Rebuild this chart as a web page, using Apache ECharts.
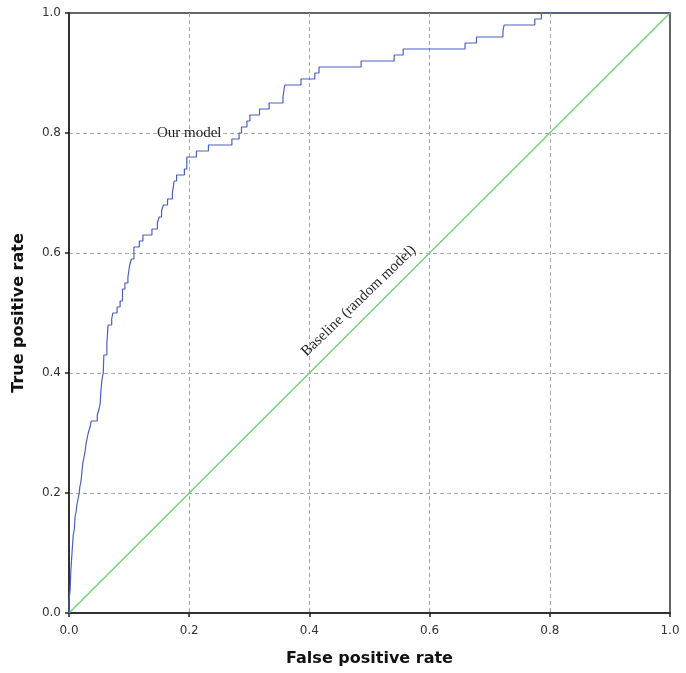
<!DOCTYPE html>
<html>
<head>
<meta charset="utf-8">
<script src="https://cdn.jsdelivr.net/npm/echarts@6/dist/echarts.min.js"></script>
<style>
  html, body { margin: 0; padding: 0; background: #fff; }
  #main { width: 686px; height: 673px; }
</style>
</head>
<body>
<div id="main"></div>
<script>
// ROC points (fpr, tpr), joined with horizontal-then-vertical steps
var rocFpr = [0.000, 0.000, 0.002, 0.003, 0.005, 0.007, 0.009, 0.010, 0.012, 0.013,
  0.015, 0.017, 0.018, 0.020, 0.022, 0.023, 0.025, 0.027, 0.028, 0.030,
  0.032, 0.035, 0.037, 0.047, 0.050, 0.052, 0.053, 0.055, 0.057, 0.058,
  0.063, 0.065, 0.071, 0.073, 0.080, 0.085, 0.089, 0.093, 0.098, 0.101,
  0.104, 0.108, 0.117, 0.123, 0.138, 0.147, 0.150, 0.154, 0.157, 0.164,
  0.172, 0.175, 0.179, 0.192, 0.196, 0.212, 0.232, 0.271, 0.283, 0.287,
  0.296, 0.301, 0.317, 0.333, 0.356, 0.359, 0.386, 0.409, 0.416, 0.486,
  0.541, 0.556, 0.659, 0.678, 0.722, 0.724, 0.775, 0.786, 1.000];
var rocTpr = [0.00, 0.02, 0.04, 0.07, 0.10, 0.13, 0.14, 0.16, 0.17, 0.18,
  0.19, 0.20, 0.21, 0.22, 0.24, 0.25, 0.26, 0.27, 0.28, 0.29,
  0.30, 0.31, 0.32, 0.33, 0.34, 0.35, 0.37, 0.39, 0.40, 0.43,
  0.45, 0.48, 0.49, 0.50, 0.51, 0.52, 0.54, 0.55, 0.56, 0.58,
  0.59, 0.61, 0.62, 0.63, 0.64, 0.65, 0.66, 0.67, 0.68, 0.69,
  0.70, 0.72, 0.73, 0.74, 0.76, 0.77, 0.78, 0.79, 0.80, 0.81,
  0.82, 0.83, 0.84, 0.85, 0.86, 0.88, 0.89, 0.90, 0.91, 0.92,
  0.93, 0.94, 0.95, 0.96, 0.97, 0.98, 0.99, 1.00, 1.00];

var baseFpr = [0, 1];
var baseTpr = [0, 1];

var axisTicks = [0.0, 0.2, 0.4, 0.6, 0.8, 1.0];

// where the two text notes sit, in data units
var modelNoteAt = [0.2, 0.8];
var baseNoteAt = [0.482, 0.52];

var chart = echarts.init(document.getElementById('main'));

var rocData = rocFpr.map(function (x, i) { return [x, rocTpr[i]]; });
var baseData = baseFpr.map(function (x, i) { return [x, baseTpr[i]]; });

function valueAxis(name, gap, margin) {
  return {
    type: 'value',
    min: axisTicks[0],
    max: axisTicks[axisTicks.length - 1],
    interval: 0.2,
    name: name,
    nameLocation: 'middle',
    nameGap: gap,
    nameTextStyle: { fontFamily: 'DejaVu Sans', fontWeight: 'bold', fontSize: 16, color: '#111' },
    axisLine: { show: true, lineStyle: { color: '#222', width: 1.5 } },
    axisTick: { show: true, length: 4, lineStyle: { color: '#222', width: 1.5 } },
    axisLabel: {
      fontFamily: 'DejaVu Sans', fontSize: 12, color: '#333', margin: margin,
      formatter: function (v) { return v.toFixed(1); }
    },
    splitLine: {
      show: true, showMinLine: false, showMaxLine: false,
      lineStyle: { color: '#aaa', type: [4, 3], width: 1 }
    }
  };
}

function note(at, text, rotate) {
  return {
    symbol: 'circle',
    symbolSize: 1,
    itemStyle: { color: 'rgba(0,0,0,0)' },
    silent: true,
    data: [{
      coord: at,
      label: {
        show: true, position: 'inside', formatter: text, rotate: rotate,
        fontFamily: 'Liberation Serif', fontSize: 15, color: '#222'
      }
    }]
  };
}

var option = {
  animation: false,
  backgroundColor: '#fff',
  grid: {
    left: 69, right: 16, top: 13, bottom: 60,
    show: true, borderColor: '#333', borderWidth: 1.5, backgroundColor: 'transparent'
  },
  xAxis: valueAxis('False positive rate', 38, 12),
  yAxis: valueAxis('True positive rate', 42, 8),
  series: [
    {
      name: 'Baseline (random model)',
      type: 'line',
      data: baseData,
      symbol: 'none',
      lineStyle: { color: '#70d47e', width: 1.5 },
      markPoint: note(baseNoteAt, 'Baseline (random model)', 44)
    },
    {
      name: 'Our model',
      type: 'line',
      data: rocData,
      step: 'end',
      symbol: 'none',
      lineStyle: { color: '#4a5ec0', width: 1.2 },
      markPoint: note(modelNoteAt, 'Our model', 0)
    }
  ]
};

chart.setOption(option);
</script>
</body>
</html>
